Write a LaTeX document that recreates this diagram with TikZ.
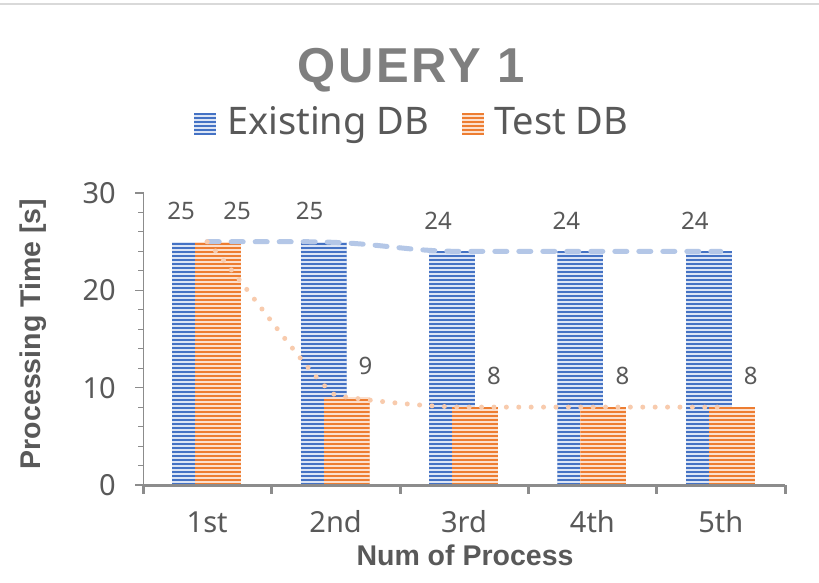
\documentclass[tikz,border=0pt]{standalone}
\usepackage{fontspec}
\setmainfont{Noto Sans}
\newfontfamily\boldsans{Liberation Sans}
\definecolor{bluedark}{HTML}{4472C4}
\definecolor{bluelight}{HTML}{DCE5F5}
\definecolor{orangedark}{HTML}{ED7D31}
\definecolor{orangelight}{HTML}{FCE0CE}
\definecolor{bluetrend}{HTML}{B4C7E7}
\definecolor{orangetrend}{HTML}{F8CBAD}
\definecolor{txtgray}{HTML}{595959}
\definecolor{titlegray}{HTML}{7F7F7F}
\definecolor{axisgray}{HTML}{8C8C8C}
\tikzset{
  datalbl/.style={font=\fontsize{24}{24}\selectfont, text=txtgray, inner sep=0pt},
  ticklbl/.style={font=\fontsize{29}{29}\selectfont, text=txtgray, inner sep=0pt},
  axtitle/.style={font=\boldsans\bfseries\fontsize{28.5}{28.5}\selectfont, text=txtgray, inner sep=0pt},
  legtext/.style={font=\fontsize{38}{38}\selectfont, text=txtgray, inner sep=0pt, anchor=base west},
  stripe/.style={line width=2.4pt},
}
% \stripebar{x1}{ybottom}{x2}{ytop}{dark}{light}
\newcommand\stripebar[6]{%
  \fill[#6] (#1,#2) rectangle (#3,#4);
  \begin{scope}
    \clip (#1,#2) rectangle (#3,#4);
    \pgfmathtruncatemacro\ystart{#2}%
    \pgfmathtruncatemacro\ynext{#2-4}%
    \foreach \yy in {\ystart,\ynext,...,100} {
      \draw[#5, stripe] (#1,\yy-1) -- (#3,\yy-1);
    }
  \end{scope}
}
\begin{document}
\begin{tikzpicture}[x=1pt,y=-1pt]
\useasboundingbox (0,0) rectangle (819,582);
\fill[white] (0,0) rectangle (819,582);
\draw[line width=2pt, color=black!15] (0,4) -- (819,4);

% title
\node[font=\boldsans\bfseries\fontsize{49}{49}\selectfont\addfontfeatures{LetterSpace=6}, text=titlegray, inner sep=0pt, anchor=base] (title) at (411,82) {QUERY 1};

% legend
\stripebar{194}{135}{216}{113}{bluedark}{bluelight}
\node[legtext] (legA) at (227,134) {Existing DB};
\stripebar{462}{135}{484}{113}{orangedark}{orangelight}
\node[legtext] (legB) at (494,134) {Test DB};

% y axis
\draw[axisgray, line width=1.3pt] (143.5,193) -- (143.5,485);
\foreach \v in {0,10,20,30} {
  \draw[axisgray, line width=1.3pt] (135,485-9.733*\v) -- (143.5,485-9.733*\v);
  \node[ticklbl, anchor=east] (yl\v) at (116,485-9.733*\v) {\v};
}
\foreach \v in {2,4,6,8,12,14,16,18,22,24,26,28} {
  \draw[axisgray, line width=1.1pt] (138,485-9.733*\v) -- (143.5,485-9.733*\v);
}

% bars
\foreach \c/\a/\b/\n in {207.2/25/25/1st, 335.6/25/9/2nd, 464/24/8/3rd, 592.4/24/8/4th, 720.8/24/8/5th} {
  \stripebar{\c-35}{485}{\c+11}{485-9.733*\a}{bluedark}{bluelight}
  \stripebar{\c-12}{485}{\c+34}{485-9.733*\b}{orangedark}{orangelight}
  \node[datalbl] (da\n) at (\c-26,485-9.733*\a-31) {\a};
  \node[datalbl] (db\n) at (\c+30,485-9.733*\b-31) {\b};
  \node[ticklbl] (xl\n) at (\c,522) {\n};
}

% trend lines
\draw[bluetrend, line width=5pt, line cap=round, dash pattern=on 12pt off 12pt]
  (207.2,241.7) -- (300,241.7) .. controls (380,241.7) and (400,251.4) .. (464,251.4) -- (720.8,251.4);
\draw[orangetrend, line width=5pt, line cap=round, dash pattern=on 0pt off 12.4pt]
  (207.2,241.7) .. controls (245,282) and (310,378) .. (335.6,395.5)
  .. controls (365,400) and (420,406.5) .. (464,407.1) -- (720.8,407.1);

% x axis
\draw[axisgray, line width=3pt] (143.5,485) -- (785,485);
\foreach \i in {0,...,5} {
  \draw[axisgray, line width=3pt] (143.5+128.3*\i,485) -- (143.5+128.3*\i,494);
}

% axis titles
\node[axtitle] (xt) at (465,555) {Num of Process};
\node[axtitle, rotate=90] (yt) at (33,334) {Processing Time [s]};
\end{tikzpicture}
\end{document}
